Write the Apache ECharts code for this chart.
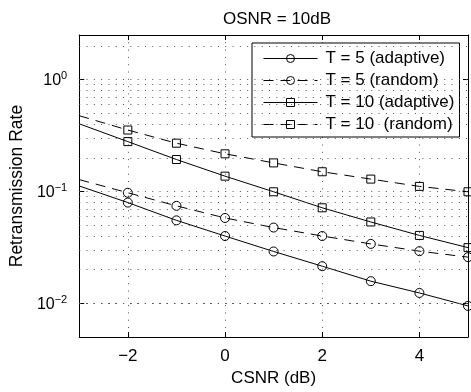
<!DOCTYPE html>
<html>
<head>
<meta charset="utf-8">
<script src="https://cdn.jsdelivr.net/npm/echarts@6/dist/echarts.min.js"></script>
<style>html,body{margin:0;padding:0;background:#fff}#c{width:471px;height:392px}</style>
</head>
<body>
<div id="c"></div>
<script>
// ---- data ----
const csnr = [-3, -2, -1, 0, 1, 2, 3, 4, 5];
const t5Adaptive  = [0.112, 0.0796, 0.0552, 0.040, 0.0291, 0.0215, 0.0158, 0.0124, 0.0095];
const t5Random    = [0.1276, 0.0974, 0.0744, 0.058, 0.0476, 0.040, 0.034, 0.0293, 0.0259];
const t10Adaptive = [0.402, 0.279, 0.193, 0.137, 0.0994, 0.0715, 0.0534, 0.0405, 0.0315];
const t10Random   = [0.475, 0.354, 0.27, 0.217, 0.18, 0.150, 0.129, 0.111, 0.0994];
const seriesNames = ['T = 5 (adaptive)', 'T = 5 (random)', 'T = 10 (adaptive)', 'T = 10  (random)'];
const xTicks = [-2, 0, 2, 4];
const yDecades = [-3, -2, -1, 0];
const yMin = 0.005, yMax = 2.5;

const FONT = 'Liberation Sans';
const chart = echarts.init(document.getElementById('c'), null, {renderer: 'canvas'});

function mk(vals, dashed, sym, size) {
  return {
    type: 'line',
    data: csnr.map((x, i) => (x < -2 ? {value: [x, vals[i]], symbol: 'none'} : [x, vals[i]])),
    symbol: sym,
    symbolSize: size,
    showSymbol: true,
    itemStyle: {color: 'rgba(0,0,0,0)', borderColor: '#000', borderWidth: 1},
    lineStyle: {color: '#000', width: 1, type: dashed ? [10, 7] : 'solid'},
    emphasis: {disabled: true},
    animation: false,
    z: 3
  };
}

// minor/major horizontal grid levels (log grid)
const gridLevels = [];
yDecades.forEach(d => {
  for (let m = 1; m <= 9; m++) {
    const v = m * Math.pow(10, d);
    if (v >= yMin * 0.999 && v <= yMax * 1.001) gridLevels.push(v);
  }
});

const series = [
  mk(t5Adaptive, false, 'circle', 9),
  mk(t5Random, true, 'circle', 9),
  mk(t10Adaptive, false, 'rect', 8),
  mk(t10Random, true, 'rect', 8)
];
series.forEach((s, i) => { s.name = seriesNames[i]; });
series[0].markLine = {
  silent: true,
  symbol: ['none', 'none'],
  label: {show: false},
  animation: false,
  lineStyle: {color: '#555', width: 1, type: [1, 6.3]},
  data: gridLevels.map(v => ({yAxis: v}))
};

function yLabel(v) {
  const k = Math.round(Math.log10(v));
  if (Math.abs(v - Math.pow(10, k)) / v > 1e-6) return '';
  const e = k < 0 ? '\u2212' + Math.abs(k) : String(k);
  return '{b|10}{s|' + e + '}';
}

const option = {
  backgroundColor: '#fff',
  animation: false,
  title: {
    text: 'OSNR = 10dB',
    left: 272, top: 6, textAlign: 'center',
    textStyle: {fontFamily: FONT, fontSize: 17, fontWeight: 'normal', color: '#000'}
  },
  legend: {
    orient: 'vertical',
    left: 252, top: 43,
    padding: [7, 5, 4, 11],
    itemWidth: 54, itemHeight: 10, itemGap: 5,
    borderColor: '#000', borderWidth: 1, backgroundColor: '#fff',
    lineStyle: {width: 1},
    itemStyle: {borderWidth: 1},
    textStyle: {fontFamily: FONT, fontSize: 17, lineHeight: 17, color: '#000', padding: [0, 0, 0, 3]},
    data: seriesNames,
    selectedMode: false
  },
  grid: {left: 74, right: 1, top: 35, bottom: 49, containLabel: false},
  xAxis: [{
    type: 'value', min: -3, max: 5, splitNumber: 4,
    name: 'CSNR (dB)', nameLocation: 'middle', nameGap: 32,
    nameTextStyle: {fontFamily: FONT, fontSize: 17, color: '#000'},
    axisLine: {show: true, onZero: false, lineStyle: {color: '#000', width: 1}},
    axisTick: {show: true, inside: true, length: 5, lineStyle: {color: '#000'}},
    axisLabel: {
      fontFamily: FONT, fontSize: 17, color: '#000', margin: 11,
      formatter: v => (xTicks.indexOf(v) >= 0 ? (v < 0 ? '\u2212' + Math.abs(v) : String(v)) : '')
    },
    splitLine: {show: true, lineStyle: {color: '#555', width: 1, type: [1, 6.3]}}
  }, {
    type: 'value', min: -3, max: 5, splitNumber: 4, position: 'top',
    axisLine: {show: true, onZero: false, lineStyle: {color: '#000', width: 1}},
    axisTick: {show: true, inside: true, length: 5, lineStyle: {color: '#000'}},
    axisLabel: {show: false}, splitLine: {show: false}
  }],
  yAxis: [{
    type: 'log', logBase: 10, min: yMin, max: yMax,
    name: 'Retransmission Rate', nameLocation: 'middle', nameGap: 47,
    nameTextStyle: {fontFamily: FONT, fontSize: 17.5, color: '#000'},
    axisLine: {show: true, onZero: false, lineStyle: {color: '#000', width: 1}},
    axisTick: {show: true, inside: true, length: 5, lineStyle: {color: '#000'}},
    axisLabel: {
      margin: 12, color: '#000',
      formatter: yLabel,
      rich: {
        b: {fontFamily: FONT, fontSize: 16, color: '#000', lineHeight: 18, verticalAlign: 'bottom'},
        s: {fontFamily: FONT, fontSize: 11, color: '#000', lineHeight: 12, verticalAlign: 'top'}
      }
    },
    splitLine: {show: false}
  }, {
    type: 'log', logBase: 10, min: yMin, max: yMax, position: 'right',
    axisLine: {show: true, onZero: false, lineStyle: {color: '#000', width: 1}},
    axisTick: {show: true, inside: true, length: 5, lineStyle: {color: '#000'}},
    axisLabel: {show: false}, splitLine: {show: false}
  }],
  series: series
};
chart.setOption(option);
</script>
</body>
</html>
